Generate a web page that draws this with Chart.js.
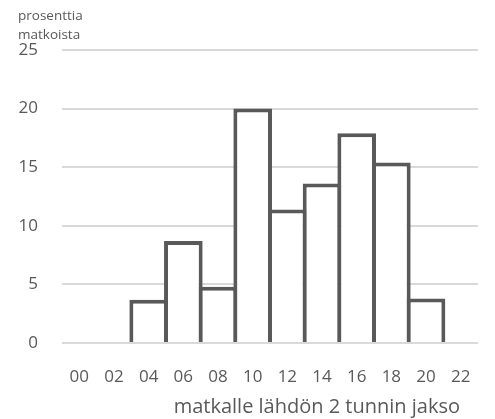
<!DOCTYPE html>
<html>
<head>
<meta charset="utf-8">
<script src="https://cdn.jsdelivr.net/npm/chart.js@4.4.0/dist/chart.umd.min.js"></script>
<style>
  html, body { margin: 0; padding: 0; background: #fff; }
  #wrap { width: 495px; height: 419px; position: relative; }
</style>
</head>
<body>
<div id="wrap"><canvas id="chart"></canvas></div>
<script>
const hours = ["00", "02", "04", "06", "08", "10", "12", "14", "16", "18", "20", "22"];
const shares = [0, 0, 3.7, 8.7, 4.8, 20, 11.4, 13.6, 17.9, 15.4, 3.8, 0];
const yTicks = [0, 5, 10, 15, 20, 25];
const yTitle = ["prosenttia", "matkoista"];
const xTitle = "matkalle lähdön 2 tunnin jakso";

const textColor = "#595959";
const fontFamily = "'Open Sans', sans-serif";

// axis titles drawn by hand, Excel puts them in odd places
const titlesPlugin = {
  id: "titles",
  afterDraw(chart) {
    const ctx = chart.ctx;
    const area = chart.chartArea;
    ctx.save();
    ctx.fillStyle = textColor;
    ctx.textBaseline = "middle";
    ctx.font = "13.5px " + fontFamily;
    ctx.textAlign = "left";
    ctx.fillText(yTitle[0], 18, 16);
    ctx.fillText(yTitle[1], 18, 35);
    ctx.font = "20px " + fontFamily;
    ctx.textAlign = "right";
    ctx.fillText(xTitle, area.right - 18, area.bottom + 64);
    ctx.restore();
  },
};

new Chart(document.getElementById("chart"), {
  type: "bar",
  data: {
    labels: hours,
    datasets: [
      {
        data: shares,
        backgroundColor: "#ffffff",
        borderColor: "#595959",
        borderWidth: 4,
        borderSkipped: "start",
        categoryPercentage: 1,
        barPercentage: 1.114,
      },
    ],
  },
  plugins: [titlesPlugin],
  options: {
    responsive: true,
    maintainAspectRatio: false,
    animation: false,
    layout: { padding: { top: 50, right: 14, left: 0, bottom: 0 } },
    plugins: {
      legend: { display: false },
      tooltip: { enabled: false },
    },
    scales: {
      x: {
        grid: { display: false, drawTicks: false },
        border: { display: false },
        ticks: {
          color: textColor,
          font: { family: fontFamily, size: 17 },
          padding: 24,
          maxRotation: 0,
          autoSkip: false,
        },
        afterFit: (scale) => {
          scale.height = 76;
        },
      },
      y: {
        min: 0,
        max: 25,
        afterBuildTicks: (scale) => {
          scale.ticks = yTicks.map((v) => ({ value: v }));
        },
        grid: { color: "#d9d9d9", lineWidth: 2, drawTicks: false },
        border: { display: false },
        ticks: {
          color: textColor,
          font: { family: fontFamily, size: 17 },
          padding: 24,
        },
        afterFit: (scale) => {
          scale.width = 62;
        },
      },
    },
  },
});
</script>
</body>
</html>
